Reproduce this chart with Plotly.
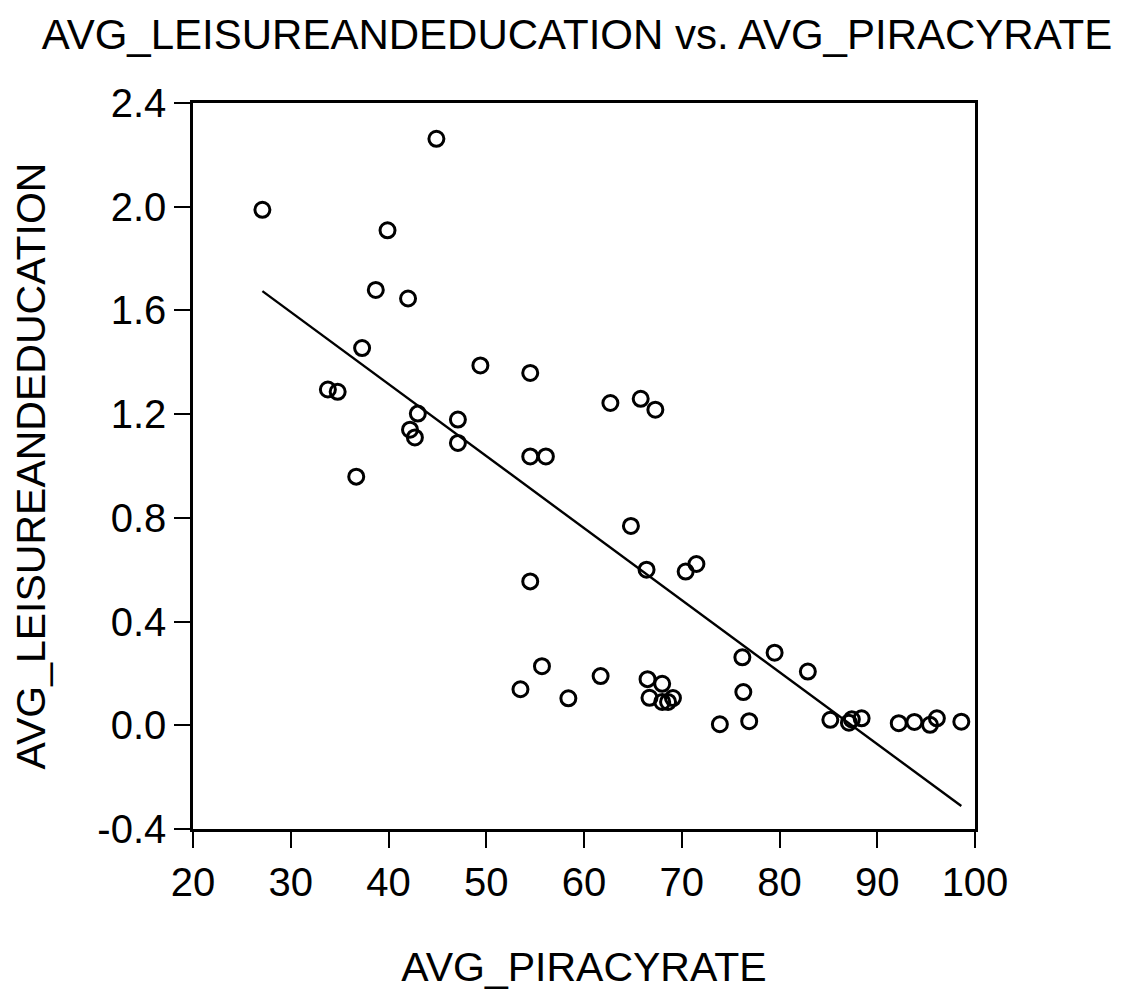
import numpy as np
import plotly.graph_objects as go

# Data
piracy_rate = [44.9, 27.1, 39.9, 38.7, 42.0, 37.3, 49.4, 54.5, 33.8, 34.8,
               43.0, 47.1, 42.2, 42.7, 47.1, 54.5, 56.1, 62.7, 65.8, 67.3,
               36.7, 54.5, 55.7, 53.5, 58.4, 64.8, 66.4, 70.4, 71.5, 61.7,
               66.5, 68.0, 66.7, 68.0, 68.6, 69.1, 76.2, 79.5, 82.9, 76.3,
               73.9, 76.9, 85.2, 87.1, 87.4, 88.4, 92.2, 93.8, 95.4, 96.1,
               98.6]
leisure_edu = [2.262, 1.988, 1.909, 1.679, 1.646, 1.455, 1.388, 1.359, 1.295, 1.286,
               1.202, 1.179, 1.140, 1.110, 1.089, 1.037, 1.037, 1.243, 1.259, 1.217,
               0.959, 0.555, 0.228, 0.139, 0.104, 0.769, 0.600, 0.593, 0.622, 0.190,
               0.178, 0.160, 0.106, 0.090, 0.090, 0.105, 0.262, 0.280, 0.207, 0.128,
               0.004, 0.016, 0.021, 0.010, 0.023, 0.027, 0.008, 0.013, 0.002, 0.027,
               0.014]

x_tickvals = [20, 30, 40, 50, 60, 70, 80, 90, 100]
y_tickvals = [-0.4, 0.0, 0.4, 0.8, 1.2, 1.6, 2.0, 2.4]
y_ticktext = ["-0.4", "0.0", "0.4", "0.8", "1.2", "1.6", "2.0", "2.4"]

title_text = "AVG_LEISUREANDEDUCATION vs. AVG_PIRACYRATE"
x_title = "AVG_PIRACYRATE"
y_title = "AVG_LEISUREANDEDUCATION"

# OLS regression line
xa = np.array(piracy_rate)
ya = np.array(leisure_edu)
slope, intercept = np.polyfit(xa, ya, 1)
xs = np.sort(xa)
fit = intercept + slope * xs

FONT = "Liberation Sans, Arial, sans-serif"
W, H = 1120, 982

fig = go.Figure()
fig.add_trace(go.Scatter(
    x=piracy_rate, y=leisure_edu, mode="markers",
    marker=dict(symbol="circle-open", size=15, color="black",
                line=dict(width=3, color="black")),
    showlegend=False,
))
fig.add_trace(go.Scatter(
    x=xs, y=fit, mode="lines",
    line=dict(color="black", width=2.4),
    showlegend=False,
))

fig.update_layout(
    width=W, height=H,
    paper_bgcolor="white", plot_bgcolor="white",
    margin=dict(l=185, r=W - 967, t=95, b=H - 821),
    font=dict(family=FONT, size=40, color="black"),
    title=dict(text=title_text, x=569 / W, xanchor="center",
               y=1 - 26 / H, yanchor="middle",
               font=dict(family=FONT, size=42, color="black")),
)
fig.update_xaxes(
    range=[20, 100], tickvals=x_tickvals, automargin=False,
    ticks="outside", ticklen=16, tickwidth=1.5, tickcolor="black",
    showline=True, linewidth=2.5, linecolor="black", mirror=True,
    showgrid=False, zeroline=False,
    tickfont=dict(family=FONT, size=40),
    title=dict(text=x_title, standoff=55, font=dict(family=FONT, size=41)),
)
fig.update_yaxes(
    range=[-0.4, 2.4], tickvals=y_tickvals, ticktext=y_ticktext, automargin=False,
    ticks="outside", ticklen=16, tickwidth=1.5, tickcolor="black",
    showline=True, linewidth=2.5, linecolor="black", mirror=True,
    showgrid=False, zeroline=False,
    tickfont=dict(family=FONT, size=40),
    title=dict(text=y_title, standoff=52, font=dict(family=FONT, size=41)),
)

fig.write_html("out.html")
